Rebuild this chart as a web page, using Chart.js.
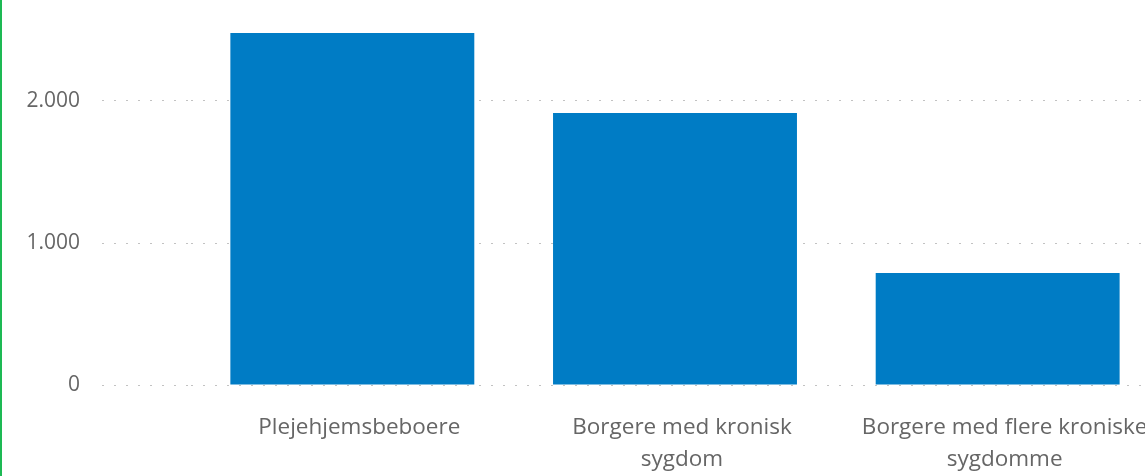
<!DOCTYPE html>
<html>
<head>
<meta charset="utf-8">
<script src="https://cdn.jsdelivr.net/npm/chart.js@4/dist/chart.umd.min.js"></script>
<style>
    html, body { margin: 0; padding: 0; background: #fff; overflow: hidden; }
    body { width: 1145px; height: 476px; position: relative; }
    #edge { position: absolute; left: 0; top: 0; width: 2px; height: 476px; background: #1db954; z-index: 2; }
    #wrap { position: absolute; left: 0; top: 0; width: 1159px; height: 476px; }
</style>
</head>
<body>
<div id="edge"></div>
<div id="wrap"><canvas id="barChart"></canvas></div>
<script>
// Chart data
const categories = [
    'Plejehjemsbeboere',
    ['Borgere med kronisk', 'sygdom'],
    ['Borgere med flere kroniske', 'sygdomme']
];
const values = [2479, 1915, 789];
const tickValues = [0, 1000, 2000];

const textColor = '#666666';
const gridColor = '#c2c2c2';

// Danish thousands separator
function formatNumber(v) {
    return String(v).replace(/\B(?=(\d{3})+(?!\d))/g, '.');
}

const ctx = document.getElementById('barChart').getContext('2d');
const barChart = new Chart(ctx, {
    type: 'bar',
    data: {
        labels: categories,
        datasets: [{
            data: values,
            backgroundColor: '#007cc5',
            borderWidth: 0,
            barPercentage: 0.756,
            categoryPercentage: 1
        }]
    },
    options: {
        responsive: true,
        maintainAspectRatio: false,
        animation: false,
        layout: { padding: { top: 30, right: 0, left: 0, bottom: 0 } },
        plugins: {
            legend: { display: false },
            tooltip: { enabled: false }
        },
        scales: {
            x: {
                grid: { display: false, drawTicks: false },
                border: { display: false },
                ticks: {
                    color: textColor,
                    font: { family: 'Open Sans', size: 22.5, lineHeight: 1.42 },
                    padding: 27,
                    labelOffset: 7,
                    maxRotation: 0,
                    autoSkip: false
                },
                afterFit: (scale) => {
                    scale.height = 91;
                    scale.paddingLeft = 0;
                    scale.paddingRight = 0;
                }
            },
            y: {
                min: 0,
                max: 2500,
                border: { display: false, dash: [2, 10] },
                grid: {
                    color: gridColor,
                    lineWidth: 1,
                    tickLength: 89,
                    tickColor: gridColor,
                    tickBorderDash: [2, 10]
                },
                ticks: {
                    stepSize: 1000,
                    color: textColor,
                    padding: 22,
                    font: { family: 'Open Sans', size: 21 },
                    callback: (v) => formatNumber(v)
                },
                afterBuildTicks: (scale) => {
                    scale.ticks = tickValues.map(v => ({ value: v }));
                },
                afterFit: (scale) => {
                    scale.width = 191;
                    scale.paddingTop = 0;
                    scale.paddingBottom = 0;
                }
            }
        }
    }
});
</script>
</body>
</html>
